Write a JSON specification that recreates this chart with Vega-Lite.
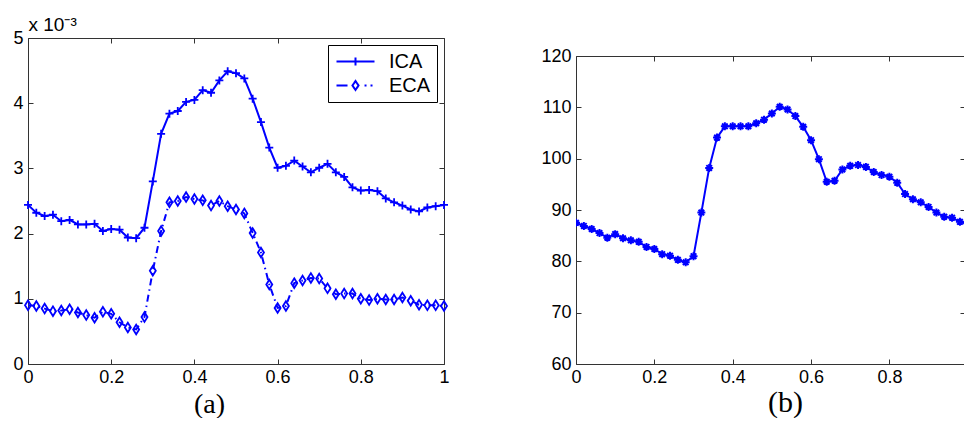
{
  "$schema": "https://vega.github.io/schema/vega-lite/v6.json",
  "background": "#ffffff",
  "padding": {"left": 12, "top": 15, "right": 0, "bottom": 0},
  "datasets": {
    "a": [
      {"x": 0.00, "series": "ICA", "v": 0.00244}, {"x": 0.02, "series": "ICA", "v": 0.00232}, {"x": 0.04, "series": "ICA", "v": 0.00227}, {"x": 0.06, "series": "ICA", "v": 0.00229}, {"x": 0.08, "series": "ICA", "v": 0.00219}, {"x": 0.10, "series": "ICA", "v": 0.00221}, {"x": 0.12, "series": "ICA", "v": 0.00214}, {"x": 0.14, "series": "ICA", "v": 0.00214}, {"x": 0.16, "series": "ICA", "v": 0.00215}, {"x": 0.18, "series": "ICA", "v": 0.00204}, {"x": 0.20, "series": "ICA", "v": 0.00207}, {"x": 0.22, "series": "ICA", "v": 0.00206}, {"x": 0.24, "series": "ICA", "v": 0.00194}, {"x": 0.26, "series": "ICA", "v": 0.00193}, {"x": 0.28, "series": "ICA", "v": 0.00209}, {"x": 0.30, "series": "ICA", "v": 0.00280}, {"x": 0.32, "series": "ICA", "v": 0.00353}, {"x": 0.34, "series": "ICA", "v": 0.00384}, {"x": 0.36, "series": "ICA", "v": 0.00388}, {"x": 0.38, "series": "ICA", "v": 0.00402}, {"x": 0.40, "series": "ICA", "v": 0.00405}, {"x": 0.42, "series": "ICA", "v": 0.00420}, {"x": 0.44, "series": "ICA", "v": 0.00416}, {"x": 0.46, "series": "ICA", "v": 0.00435}, {"x": 0.48, "series": "ICA", "v": 0.00449}, {"x": 0.50, "series": "ICA", "v": 0.00446}, {"x": 0.52, "series": "ICA", "v": 0.00438}, {"x": 0.54, "series": "ICA", "v": 0.00407}, {"x": 0.56, "series": "ICA", "v": 0.00371}, {"x": 0.58, "series": "ICA", "v": 0.00332}, {"x": 0.60, "series": "ICA", "v": 0.00301}, {"x": 0.62, "series": "ICA", "v": 0.00304}, {"x": 0.64, "series": "ICA", "v": 0.00312}, {"x": 0.66, "series": "ICA", "v": 0.00303}, {"x": 0.68, "series": "ICA", "v": 0.00294}, {"x": 0.70, "series": "ICA", "v": 0.00301}, {"x": 0.72, "series": "ICA", "v": 0.00307}, {"x": 0.74, "series": "ICA", "v": 0.00294}, {"x": 0.76, "series": "ICA", "v": 0.00287}, {"x": 0.78, "series": "ICA", "v": 0.00271}, {"x": 0.80, "series": "ICA", "v": 0.00266}, {"x": 0.82, "series": "ICA", "v": 0.00267}, {"x": 0.84, "series": "ICA", "v": 0.00265}, {"x": 0.86, "series": "ICA", "v": 0.00254}, {"x": 0.88, "series": "ICA", "v": 0.00248}, {"x": 0.90, "series": "ICA", "v": 0.00243}, {"x": 0.92, "series": "ICA", "v": 0.00237}, {"x": 0.94, "series": "ICA", "v": 0.00234}, {"x": 0.96, "series": "ICA", "v": 0.00240}, {"x": 0.98, "series": "ICA", "v": 0.00242}, {"x": 1.00, "series": "ICA", "v": 0.00244},
      {"x": 0.00, "series": "ECA", "v": 0.00090}, {"x": 0.02, "series": "ECA", "v": 0.00089}, {"x": 0.04, "series": "ECA", "v": 0.00085}, {"x": 0.06, "series": "ECA", "v": 0.00081}, {"x": 0.08, "series": "ECA", "v": 0.00082}, {"x": 0.10, "series": "ECA", "v": 0.00084}, {"x": 0.12, "series": "ECA", "v": 0.00079}, {"x": 0.14, "series": "ECA", "v": 0.00075}, {"x": 0.16, "series": "ECA", "v": 0.00071}, {"x": 0.18, "series": "ECA", "v": 0.00080}, {"x": 0.20, "series": "ECA", "v": 0.00077}, {"x": 0.22, "series": "ECA", "v": 0.00064}, {"x": 0.24, "series": "ECA", "v": 0.00056}, {"x": 0.26, "series": "ECA", "v": 0.00053}, {"x": 0.28, "series": "ECA", "v": 0.00072}, {"x": 0.30, "series": "ECA", "v": 0.00143}, {"x": 0.32, "series": "ECA", "v": 0.00204}, {"x": 0.34, "series": "ECA", "v": 0.00248}, {"x": 0.36, "series": "ECA", "v": 0.00250}, {"x": 0.38, "series": "ECA", "v": 0.00256}, {"x": 0.40, "series": "ECA", "v": 0.00253}, {"x": 0.42, "series": "ECA", "v": 0.00251}, {"x": 0.44, "series": "ECA", "v": 0.00243}, {"x": 0.46, "series": "ECA", "v": 0.00250}, {"x": 0.48, "series": "ECA", "v": 0.00242}, {"x": 0.50, "series": "ECA", "v": 0.00237}, {"x": 0.52, "series": "ECA", "v": 0.00231}, {"x": 0.54, "series": "ECA", "v": 0.00201}, {"x": 0.56, "series": "ECA", "v": 0.00171}, {"x": 0.58, "series": "ECA", "v": 0.00122}, {"x": 0.60, "series": "ECA", "v": 0.00086}, {"x": 0.62, "series": "ECA", "v": 0.00089}, {"x": 0.64, "series": "ECA", "v": 0.00124}, {"x": 0.66, "series": "ECA", "v": 0.00128}, {"x": 0.68, "series": "ECA", "v": 0.00132}, {"x": 0.70, "series": "ECA", "v": 0.00131}, {"x": 0.72, "series": "ECA", "v": 0.00116}, {"x": 0.74, "series": "ECA", "v": 0.00107}, {"x": 0.76, "series": "ECA", "v": 0.00108}, {"x": 0.78, "series": "ECA", "v": 0.00108}, {"x": 0.80, "series": "ECA", "v": 0.00100}, {"x": 0.82, "series": "ECA", "v": 0.00098}, {"x": 0.84, "series": "ECA", "v": 0.00100}, {"x": 0.86, "series": "ECA", "v": 0.00099}, {"x": 0.88, "series": "ECA", "v": 0.00099}, {"x": 0.90, "series": "ECA", "v": 0.00102}, {"x": 0.92, "series": "ECA", "v": 0.00097}, {"x": 0.94, "series": "ECA", "v": 0.00091}, {"x": 0.96, "series": "ECA", "v": 0.00090}, {"x": 0.98, "series": "ECA", "v": 0.00090}, {"x": 1.00, "series": "ECA", "v": 0.00089}
    ],
    "b": [
      {"x": 0.00, "v": 87.5}, {"x": 0.02, "v": 86.9}, {"x": 0.04, "v": 86.3}, {"x": 0.06, "v": 85.5}, {"x": 0.08, "v": 84.6}, {"x": 0.10, "v": 85.3}, {"x": 0.12, "v": 84.5}, {"x": 0.14, "v": 84.1}, {"x": 0.16, "v": 83.8}, {"x": 0.18, "v": 82.8}, {"x": 0.20, "v": 82.4}, {"x": 0.22, "v": 81.4}, {"x": 0.24, "v": 81.1}, {"x": 0.26, "v": 80.3}, {"x": 0.28, "v": 79.8}, {"x": 0.30, "v": 81.0}, {"x": 0.32, "v": 89.5}, {"x": 0.34, "v": 98.2}, {"x": 0.36, "v": 104.1}, {"x": 0.38, "v": 106.3}, {"x": 0.40, "v": 106.3}, {"x": 0.42, "v": 106.3}, {"x": 0.44, "v": 106.3}, {"x": 0.46, "v": 106.9}, {"x": 0.48, "v": 107.6}, {"x": 0.50, "v": 108.8}, {"x": 0.52, "v": 110.1}, {"x": 0.54, "v": 109.6}, {"x": 0.56, "v": 108.3}, {"x": 0.58, "v": 106.2}, {"x": 0.60, "v": 103.6}, {"x": 0.62, "v": 99.9}, {"x": 0.64, "v": 95.5}, {"x": 0.66, "v": 95.7}, {"x": 0.68, "v": 97.9}, {"x": 0.70, "v": 98.6}, {"x": 0.72, "v": 98.75}, {"x": 0.74, "v": 98.4}, {"x": 0.76, "v": 97.4}, {"x": 0.78, "v": 96.8}, {"x": 0.80, "v": 96.5}, {"x": 0.82, "v": 95.3}, {"x": 0.84, "v": 93.1}, {"x": 0.86, "v": 92.1}, {"x": 0.88, "v": 91.5}, {"x": 0.90, "v": 90.6}, {"x": 0.92, "v": 89.5}, {"x": 0.94, "v": 88.7}, {"x": 0.96, "v": 88.5}, {"x": 0.98, "v": 87.7}, {"x": 1.00, "v": 87.3}
    ]
  },
  "resolve": {"scale": {"color": "independent"}, "legend": {"color": "independent"}},
  "hconcat": [
    {
      "width": 416,
      "height": 326,
      "data": {"name": "a"},
      "layer": [
        {
          "transform": [{"filter": "datum.series === 'ICA'"}],
          "mark": {"type": "line", "strokeWidth": 2, "clip": true},
          "encoding": {
            "x": {"field": "x", "type": "quantitative", "scale": {"domain": [0, 1], "nice": false},
                  "axis": {"orient": "bottom", "values": [0, 0.2, 0.4, 0.6, 0.8, 1], "format": ".1~f", "labelPadding": 9, "labelFlush": false,
                           "title": "(a)", "titleFont": "Liberation Serif", "titleFontSize": 28, "titleX": 181, "titleY": 48, "titleBaseline": "alphabetic", "titleAlign": "center"}},
            "y": {"field": "v", "type": "quantitative", "scale": {"domain": [0, 0.005], "nice": false},
                  "axis": {"orient": "left", "values": [0, 0.001, 0.002, 0.003, 0.004, 0.005], "labelExpr": "format(datum.value*1000, '~g')", "labelPadding": 10, "labelFlush": false,
                           "title": "x 10⁻³", "titleFontSize": 19, "titleAngle": 0, "titleX": 0, "titleY": -8, "titleAlign": "left", "titleBaseline": "alphabetic"}},
            "color": {"field": "series", "type": "nominal", "scale": {"domain": ["ICA", "ECA"], "range": ["#0000ff", "#0000ff"]},
                      "legend": {"title": null, "orient": "top-right", "offset": 7, "strokeColor": "#000000", "fillColor": "#ffffff", "padding": 6,
                                 "symbolSize": 361, "symbolStrokeWidth": 2, "symbolOffset": 11, "labelFontSize": 20, "labelFont": "Liberation Sans", "labelColor": "#000000", "labelOffset": 23, "rowPadding": 3,
                                 "encode": {"symbols": {"update": {
                                   "shape": {"signal": "datum.value === 'ICA' ? 'M-2,0H2M0,-0.42V0.42' : 'M-2,0H-0.84M0,-0.47L0.32,0L0,0.47L-0.32,0ZM0.95,0H1.16M1.58,0H1.79'"},
                                   "fill": {"value": "transparent"}, "stroke": {"value": "#0000ff"}, "strokeWidth": {"value": 2}, "strokeDash": {"value": [1, 0]}}}}}}
          }
        },
        {
          "transform": [{"filter": "datum.series === 'ECA'"}],
          "mark": {"type": "line", "strokeWidth": 2, "clip": true, "strokeDash": [7, 4, 1.5, 4]},
          "encoding": {
            "x": {"field": "x", "type": "quantitative", "axis": null},
            "y": {"field": "v", "type": "quantitative", "axis": null},
            "color": {"field": "series", "type": "nominal"}
          }
        },
        {
          "transform": [{"filter": "datum.series === 'ICA'"}],
          "mark": {"type": "point", "filled": false, "size": 64, "strokeWidth": 1.8, "color": "#0000ff", "opacity": 1, "shape": "M-1,0H1M0,-1V1"},
          "encoding": {
            "x": {"field": "x", "type": "quantitative", "axis": null},
            "y": {"field": "v", "type": "quantitative", "axis": null}
          }
        },
        {
          "transform": [{"filter": "datum.series === 'ECA'"}],
          "mark": {"type": "point", "filled": false, "size": 64, "strokeWidth": 1.8, "color": "#0000ff", "opacity": 1, "shape": "M0,-1.2L0.75,0L0,1.2L-0.75,0Z"},
          "encoding": {
            "x": {"field": "x", "type": "quantitative", "axis": null},
            "y": {"field": "v", "type": "quantitative", "axis": null}
          }
        },
        {
          "mark": {"type": "point", "opacity": 0},
          "encoding": {
            "x": {"field": "x", "type": "quantitative", "axis": {"orient": "top", "values": [0, 0.2, 0.4, 0.6, 0.8, 1], "labels": false, "title": null}},
            "y": {"field": "v", "type": "quantitative", "axis": {"orient": "right", "values": [0, 0.001, 0.002, 0.003, 0.004, 0.005], "labels": false, "title": null}}
          }
        }
      ],
      "resolve": {"axis": {"x": "independent", "y": "independent"}}
    },
    {
      "spacing": 0,
      "vconcat": [
        {"width": 389, "height": 9, "data": {"values": []}, "mark": "point"},
        {
          "width": 389,
          "height": 308,
          "data": {"name": "b"},
          "layer": [
            {
              "mark": {"type": "line", "strokeWidth": 2, "color": "#0000ff", "clip": true},
              "encoding": {
                "x": {"field": "x", "type": "quantitative", "scale": {"domain": [0, 0.993], "nice": false},
                      "axis": {"orient": "bottom", "values": [0, 0.2, 0.4, 0.6, 0.8], "format": ".1~f", "labelPadding": 9, "labelFlush": false,
                               "title": "(b)", "titleFont": "Liberation Serif", "titleFontSize": 30, "titleX": 209, "titleY": 47, "titleBaseline": "alphabetic", "titleAlign": "center"}},
                "y": {"field": "v", "type": "quantitative", "scale": {"domain": [60, 120], "nice": false},
                      "axis": {"orient": "left", "values": [60, 70, 80, 90, 100, 110, 120], "labelPadding": 10, "labelFlush": false, "title": null}}
              }
            },
            {
              "mark": {"type": "point", "filled": false, "size": 64, "strokeWidth": 2, "color": "#0000ff", "opacity": 1, "clip": true,
                       "shape": "M-1,0H1M0,-1V1M-0.7,-0.7L0.7,0.7M-0.7,0.7L0.7,-0.7"},
              "encoding": {
                "x": {"field": "x", "type": "quantitative", "axis": null},
                "y": {"field": "v", "type": "quantitative", "axis": null}
              }
            },
            {
              "mark": {"type": "point", "opacity": 0, "clip": true},
              "encoding": {
                "x": {"field": "x", "type": "quantitative", "axis": {"orient": "top", "values": [0, 0.2, 0.4, 0.6, 0.8], "labels": false, "title": null}},
                "y": {"field": "v", "type": "quantitative", "axis": {"orient": "right", "values": [60, 70, 80, 90, 100, 110, 120], "labels": false, "title": null, "domain": false}}
              }
            }
          ],
          "resolve": {"axis": {"x": "independent", "y": "independent"}}
        }
      ]
    }
  ],
  "spacing": 88,
  "config": {
    "view": {"stroke": null},
    "axis": {"grid": false, "domainColor": "#333333", "tickColor": "#333333", "tickSize": -5, "labelColor": "#000000", "labelFont": "Liberation Sans", "labelFontSize": 18, "titleColor": "#000000", "titleFont": "Liberation Sans", "titleFontWeight": "normal"}
  }
}
